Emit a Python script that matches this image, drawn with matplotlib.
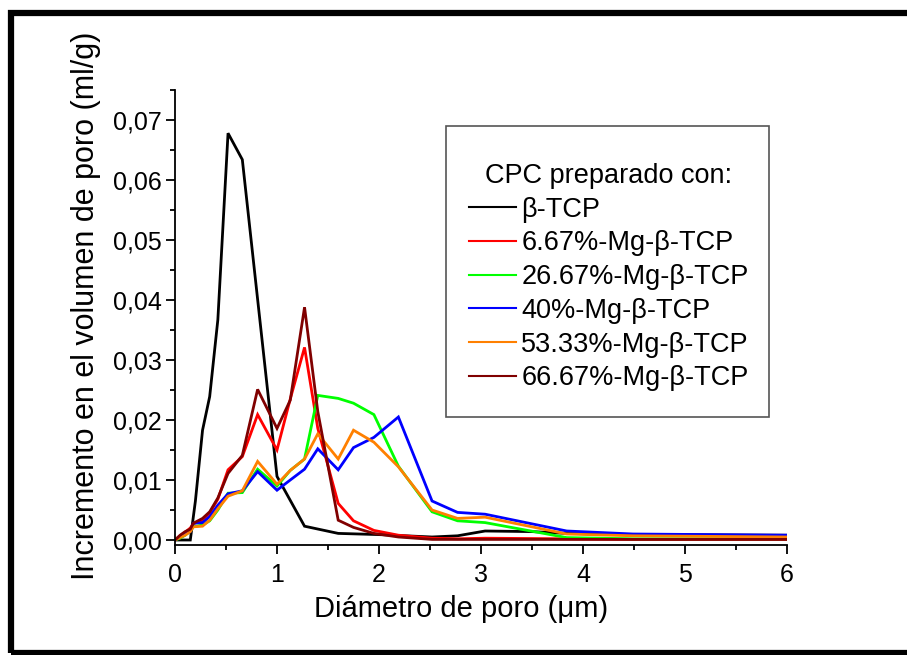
import matplotlib
matplotlib.use("Agg")
import matplotlib.pyplot as plt
from matplotlib.patches import Rectangle

plt.rcParams['font.family'] = ['Liberation Sans', 'DejaVu Sans']

# diameters (um) for each series
x_tcp = [0.0, 0.04, 0.08, 0.12, 0.15, 0.20, 0.27, 0.34, 0.42, 0.52, 0.66, 1.00, 1.27, 1.60, 2.00, 2.52, 2.77, 3.04, 3.50, 3.84, 4.49, 6.00]
y_tcp = [0.0, 0.0, 0.0, 0.0, 0.0, 0.0065, 0.0183, 0.0239, 0.0367, 0.0678, 0.0634, 0.0106, 0.0023, 0.0011, 0.0009, 0.0005, 0.0007, 0.0015, 0.0014, 0.0011, 0.0009, 0.0008]

x_grid = [0.0, 0.05, 0.10, 0.15, 0.18, 0.27, 0.34, 0.42, 0.52, 0.66, 0.81, 1.00, 1.13, 1.27, 1.40, 1.60, 1.75, 1.95, 2.19, 2.52, 2.77, 3.04, 3.84, 4.49, 6.00]

y_667 = [0.0, 0.0007, 0.0013, 0.0020, 0.0027, 0.0033, 0.0045, 0.0068, 0.0117, 0.0139, 0.0209, 0.0150, 0.0235, 0.0321, 0.0186, 0.0061, 0.0032, 0.0016, 0.0008, 0.0003, 0.0002, 0.0003, 0.0002, 0.0001, 0.0001]
y_2667 = [0.0, 0.0003, 0.0008, 0.0015, 0.0022, 0.0025, 0.0032, 0.0050, 0.0078, 0.0079, 0.0118, 0.0090, 0.0116, 0.0135, 0.0241, 0.0236, 0.0228, 0.0209, 0.0123, 0.0047, 0.0032, 0.0029, 0.0004, 0.0002, 0.0002]
y_40 = [0.0, 0.0005, 0.0010, 0.0014, 0.0028, 0.0029, 0.0039, 0.0058, 0.0077, 0.0082, 0.0114, 0.0083, 0.0100, 0.0118, 0.0152, 0.0117, 0.0154, 0.0171, 0.0205, 0.0065, 0.0046, 0.0043, 0.0015, 0.0010, 0.0008]
y_5333 = [0.0, 0.0004, 0.0008, 0.0014, 0.0022, 0.0023, 0.0033, 0.0052, 0.0073, 0.0082, 0.0131, 0.0093, 0.0116, 0.0135, 0.0177, 0.0135, 0.0183, 0.0163, 0.0122, 0.0050, 0.0036, 0.0038, 0.0010, 0.0007, 0.0005]
y_6667 = [0.0, 0.0008, 0.0014, 0.0018, 0.0028, 0.0036, 0.0047, 0.0070, 0.0111, 0.0141, 0.0251, 0.0186, 0.0233, 0.0388, 0.0214, 0.0033, 0.0021, 0.0011, 0.0005, 0.0001, 0.0001, 0.0001, 0.0001, 0.0001, 0.0001]

labels = ["β-TCP", "6.67%-Mg-β-TCP", "26.67%-Mg-β-TCP", "40%-Mg-β-TCP", "53.33%-Mg-β-TCP", "66.67%-Mg-β-TCP"]
colors = ["#000000", "#FF0000", "#00FF00", "#0000FF", "#FF8000", "#800000"]

x_ticks = [0, 1, 2, 3, 4, 5, 6]
y_ticks = [0.0, 0.01, 0.02, 0.03, 0.04, 0.05, 0.06, 0.07]
y_ticklabels = ["0,00", "0,01", "0,02", "0,03", "0,04", "0,05", "0,06", "0,07"]

fig = plt.figure(figsize=(9.07, 6.55), dpi=100)
ax = fig.add_axes([175/907, (655-545.4)/655, 612/907, 455.4/655])

series = [(x_tcp, y_tcp), (x_grid, y_667), (x_grid, y_2667), (x_grid, y_40), (x_grid, y_5333), (x_grid, y_6667)]
for (xs, ys), lab, c in zip(series, labels, colors):
    ax.plot(xs, ys, color=c, lw=2.0, label=lab, solid_joinstyle='miter')

ax.set_xlim(0, 6)
ax.set_ylim(-0.0009, 0.075)
ax.set_xticks(x_ticks)
ax.set_xticks([0.5, 1.5, 2.5, 3.5, 4.5, 5.5], minor=True)
ax.set_yticks(y_ticks)
ax.set_yticklabels(y_ticklabels)
ax.set_yticks([0.005, 0.015, 0.025, 0.035, 0.045, 0.055, 0.065, 0.075], minor=True)
for s in ['top', 'right']:
    ax.spines[s].set_visible(False)
for s in ['left', 'bottom']:
    ax.spines[s].set_linewidth(1.3)
ax.tick_params(which='major', direction='out', length=6.5, width=1.3, labelsize=18)
ax.tick_params(axis='y', which='major', pad=3)
ax.tick_params(axis='x', which='major', pad=6)
ax.tick_params(which='minor', direction='out', length=3.6, width=1.3)

ax.set_xlabel("Diámetro de poro (μm)", fontsize=21)
ax.xaxis.set_label_coords((461.5-175)/612, -((595-545.4)/455.4), transform=ax.transAxes)
ax.set_ylabel("Incremento en el volumen de poro (ml/g)", fontsize=22)
ax.yaxis.set_label_coords((101-175)/612, (545.4-306)/455.4, transform=ax.transAxes)

# legend frame
ax.add_patch(Rectangle(((446-175)/612, (545.4-417)/455.4), (769-446)/612, (417-126)/455.4,
                       transform=ax.transAxes, fill=False, edgecolor='#555555', lw=1.2, zorder=5))
leg = ax.legend(loc='upper left', bbox_to_anchor=((469-175)/612, (545.4-163)/455.4),
                frameon=False, fontsize=19.5, title="CPC preparado con:", title_fontsize=19.5,
                handlelength=1.73, handletextpad=0.2, labelspacing=0.285, borderpad=0,
                borderaxespad=0, alignment='center')
for ln in leg.get_lines():
    ln.set_linewidth(1.5)

fig.add_artist(Rectangle((11/907, 2/655), (915-11)/907, (653-13)/655, transform=fig.transFigure,
                         fill=False, edgecolor='black', lw=4.5))

fig.savefig("out.png", dpi=100)
